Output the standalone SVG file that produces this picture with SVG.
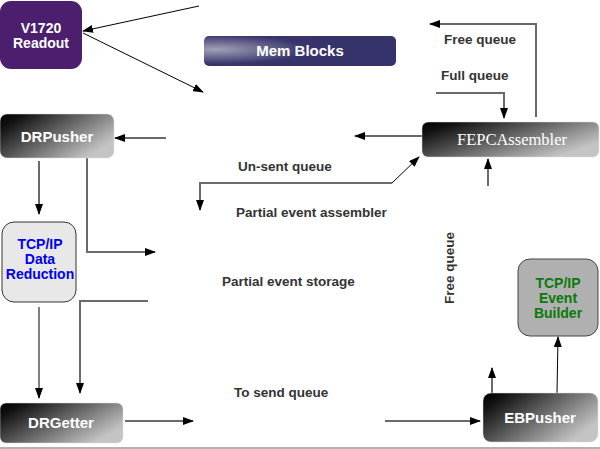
<svg xmlns="http://www.w3.org/2000/svg" width="600" height="449" viewBox="0 0 600 449">
<defs>
<linearGradient id="dark" x1="0" y1="0" x2="1" y2="0.6">
<stop offset="0" stop-color="#000"/>
<stop offset="0.15" stop-color="#111"/>
<stop offset="1" stop-color="#c4c4c4"/>
</linearGradient>
<radialGradient id="mem" cx="0.06" cy="0.45" r="0.6" fx="0.06" fy="0.45">
<stop offset="0" stop-color="#a2a1b8"/>
<stop offset="0.8" stop-color="#37356b"/>
<stop offset="1" stop-color="#35336a"/>
</radialGradient>
<marker id="ah" markerUnits="userSpaceOnUse" markerWidth="11" markerHeight="8" refX="10" refY="4" orient="auto">
<path d="M0,0 L11,4 L0,8 z" fill="#000"/>
</marker>
<style>
.lbl{font-family:"Liberation Sans",Arial,sans-serif;font-weight:bold;font-size:13.5px;fill:#333}
.nt{font-family:"Liberation Sans",Arial,sans-serif;font-weight:bold;font-size:15px;fill:#fff;text-anchor:middle}
.dn{fill:url(#dark);stroke:#ddd;stroke-width:0.5}
.g{stroke:#6a6a6a;stroke-width:2;fill:none}
.k{stroke:#000;stroke-width:1;fill:none}
</style>
</defs>

<g id="connectors">
<path class="k" d="M199,6 L83,31" marker-end="url(#ah)"/>
<path class="k" d="M83,33 L203,92" marker-end="url(#ah)"/>
<path class="g" d="M536,117 L536,24 L430,24" marker-end="url(#ah)"/>
<path class="g" d="M436,93 L504,93 L504,118" marker-end="url(#ah)"/>
<path class="g" d="M422,136 L355,136" marker-end="url(#ah)"/>
<path class="g" d="M392,183 L200,183 L200,210" marker-end="url(#ah)"/>
<path class="k" d="M392,183 L419,157" marker-end="url(#ah)"/>
<path class="g" d="M488,186 L488,159" marker-end="url(#ah)"/>
<path class="g" d="M166,138 L115,138" marker-end="url(#ah)"/>
<path class="g" d="M39,161 L39,214" marker-end="url(#ah)"/>
<path class="g" d="M87,158 L87,252 L155,252" marker-end="url(#ah)"/>
<path class="g" d="M148,301 L80,301 L80,393" marker-end="url(#ah)"/>
<path class="k" d="M39,307 L39,398" marker-end="url(#ah)"/>
<path class="g" d="M125,421 L193,421" marker-end="url(#ah)"/>
<path class="g" d="M385,421 L480,421" marker-end="url(#ah)"/>
<path class="g" d="M492,393 L492,368" marker-end="url(#ah)"/>
<path class="k" d="M557,393 L558,337" marker-end="url(#ah)"/>
</g>

<g id="v1720">
<rect x="0" y="1" width="82" height="68" rx="11" fill="#4b1e6e"/>
<text class="nt" x="41" y="33" style="font-size:14px">V1720</text>
<text class="nt" x="41" y="48" style="font-size:14px">Readout</text>
</g>

<g id="memblocks">
<rect x="204" y="36" width="192" height="30" rx="5" fill="url(#mem)"/>
<text class="nt" x="300" y="56">Mem Blocks</text>
</g>

<g id="fepcassembler">
<rect class="dn" x="422" y="122" width="177" height="35" rx="6"/>
<text x="512" y="145" fill="#fff" text-anchor="middle" style="font-family:'Liberation Serif','Times New Roman',serif;font-size:16.5px">FEPCAssembler</text>
</g>

<g id="drpusher">
<rect class="dn" x="0" y="114" width="114" height="44" rx="7"/>
<text class="nt" x="57" y="142">DRPusher</text>
</g>

<g id="tcpip-dr">
<rect x="2" y="222" width="74" height="80" rx="12" fill="#e8e8e8" stroke="#333" stroke-width="1"/>
<text class="nt" x="40" y="249" style="fill:#0000ee;font-size:14px">TCP/IP</text>
<text class="nt" x="40" y="264" style="fill:#0000ee;font-size:14px">Data</text>
<text class="nt" x="40" y="279" style="fill:#0000ee;font-size:14px">Reduction</text>
</g>

<g id="drgetter">
<rect class="dn" x="0" y="403" width="123" height="40" rx="6"/>
<text class="nt" x="61" y="428">DRGetter</text>
</g>

<g id="ebpusher">
<rect class="dn" x="483" y="393" width="115" height="49" rx="8"/>
<text class="nt" x="540" y="423">EBPusher</text>
</g>

<g id="tcpip-eb">
<rect x="518" y="259" width="80" height="77" rx="12" fill="#b0b0b0" stroke="#444" stroke-width="1"/>
<text class="nt" x="558" y="288" style="fill:#0a7a0a;font-size:14px">TCP/IP</text>
<text class="nt" x="558" y="303" style="fill:#0a7a0a;font-size:14px">Event</text>
<text class="nt" x="558" y="318" style="fill:#0a7a0a;font-size:14px">Builder</text>
</g>

<g id="labels">
<text class="lbl" x="444" y="44">Free queue</text>
<text class="lbl" x="441" y="80">Full queue</text>
<text class="lbl" x="238" y="171">Un-sent queue</text>
<text class="lbl" x="236" y="217">Partial event assembler</text>
<text class="lbl" x="222" y="286">Partial event storage</text>
<text class="lbl" x="234" y="397">To send queue</text>
<text class="lbl" x="0" y="0" text-anchor="middle" transform="translate(454,268) rotate(-90)">Free queue</text>
</g>

<line x1="0" y1="448" x2="600" y2="448" stroke="#999" stroke-width="1.5"/>
</svg>
